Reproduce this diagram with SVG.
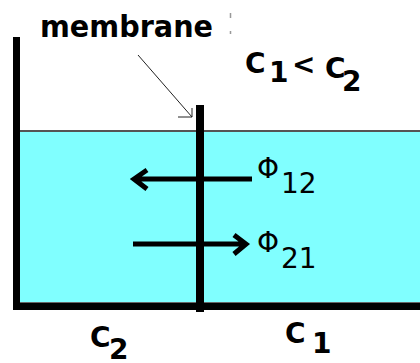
<svg xmlns="http://www.w3.org/2000/svg" width="420" height="363" viewBox="0 0 420 363">
<style>
.b{font-family:"DejaVu Sans",Verdana,sans-serif;font-weight:bold;fill:#000}
.r{font-family:"DejaVu Sans",Verdana,sans-serif;fill:#000}
.flux{stroke:#000;stroke-width:5;fill:none}
.wall{fill:#000}
</style>
<rect width="420" height="363" fill="#fff"/>
<g id="water">
<rect x="20" y="131" width="400" height="172" fill="#80FFFF"/>
<line x1="20" y1="131" x2="420" y2="131" stroke="#555" stroke-width="2"/>
<line x1="20" y1="302.5" x2="420" y2="302.5" stroke="#666" stroke-width="1"/>
</g>
<g id="container">
<rect class="wall" x="13" y="37" width="7" height="273"/>
<rect class="wall" x="13" y="303" width="407" height="7"/>
</g>
<g id="membrane">
<rect class="wall" x="196" y="105" width="8" height="207"/>
</g>
<g id="labels">
<text class="b" x="40" y="37" font-size="30" textLength="173" lengthAdjust="spacingAndGlyphs">membrane</text>
<path d="M230.5 13v5M230.5 31v3" stroke="#999" stroke-width="1.5"/>
<text class="b" font-size="28"><tspan x="245" y="73">C</tspan><tspan x="269" y="82">1</tspan><tspan x="292" y="74">&lt;</tspan><tspan x="325" y="78">C</tspan><tspan x="342" y="91">2</tspan></text>
<text class="b" font-size="28"><tspan x="90" y="347">C</tspan><tspan x="109" y="359">2</tspan></text>
<text class="b" font-size="28"><tspan x="285" y="343">C</tspan><tspan x="312" y="353">1</tspan></text>
<text class="r" font-size="28"><tspan x="257" y="178">Φ</tspan><tspan x="281" y="193">12</tspan></text>
<text class="r" font-size="28"><tspan x="257" y="252">Φ</tspan><tspan x="281" y="268">21</tspan></text>
</g>
<g id="connectors">
<path d="M138 55L192 117M178 117H192V108" stroke="#222" stroke-width="1" fill="none"/>
<path class="flux" d="M252 179H134M147 170L134 179L147 189"/>
<path class="flux" d="M133 244H246M234 235L246 244L234 254"/>
</g>
</svg>
